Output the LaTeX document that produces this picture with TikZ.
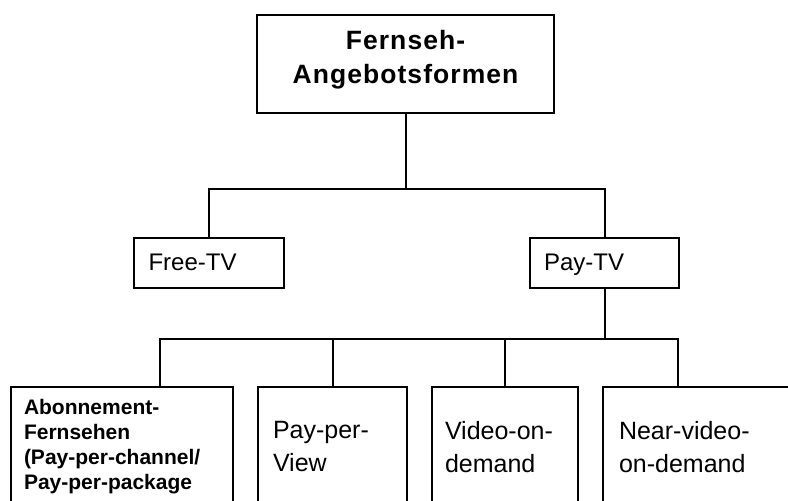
\documentclass[tikz,border=0pt]{standalone}
\usepackage{fontspec}
\setmainfont{Liberation Sans}
\newfontfamily\headfont[LetterSpace=4]{Liberation Sans}
\tikzset{
  box/.style={draw, line width=2pt, rectangle, inner sep=0pt},
  midbox/.style={box, anchor=north west, minimum height=50pt, align=left,
    text height=17.5pt, text depth=2pt, font=\fontsize{24}{28}\selectfont},
  leaf/.style={box, anchor=north west, align=left, text depth=110pt},
  conn/.style={line width=2pt},
}
\begin{document}
\begin{tikzpicture}[x=1pt,y=-1pt]
\useasboundingbox (0,0) rectangle (788,501);
\clip (0,0) rectangle (788,501);
% top level
\node[box, minimum width=297pt, minimum height=98pt, align=center, text depth=14pt,
  font=\headfont\bfseries\fontsize{26.5}{34}\selectfont] (root) at (405.5,64) {Fernseh-\\Angebotsformen};
% second level
\node[midbox, text width=121pt, inner xsep=14.5pt] (free) at (133,237) {Free-TV};
\node[midbox, text width=121pt, inner xsep=14pt] (pay) at (529,237) {Pay-TV};
% third level
\node[leaf, text width=196pt, inner xsep=13pt, inner ysep=12pt,
  font=\bfseries\fontsize{21}{25}\selectfont] (abo) at (10,386)
  {Abonnement-\\Fernsehen\\(Pay-per-channel/\\Pay-per-package};
\node[leaf, text width=119pt, inner xsep=15pt, inner ysep=34pt,
  font=\fontsize{25}{33.5}\selectfont] (ppv) at (257,386) {Pay-per-\\View};
\node[leaf, text width=120pt, inner xsep=13pt, inner ysep=34pt,
  font=\fontsize{25}{33.5}\selectfont] (vod) at (431,386) {Video-on-\\demand};
\node[leaf, text width=168pt, inner xsep=16pt, inner ysep=34pt,
  font=\fontsize{25}{33.5}\selectfont] (nvod) at (602,386) {Near-video-\\on-demand};
% connectors
\coordinate (bus1) at (405.5,189);
\draw[conn] (root.south) -- (bus1) -| (free.north);
\draw[conn] (bus1) -| (pay.north);
\draw[conn] (pay.south) -- ++(0,50) coordinate (bus2);
\draw[conn] (bus2) -| ([xshift=38pt]abo.north);
\draw[conn] (bus2) -| (ppv.north);
\draw[conn] (bus2) -| (vod.north);
\draw[conn] (bus2) -| ([xshift=-25pt]nvod.north);
\end{tikzpicture}
\end{document}
